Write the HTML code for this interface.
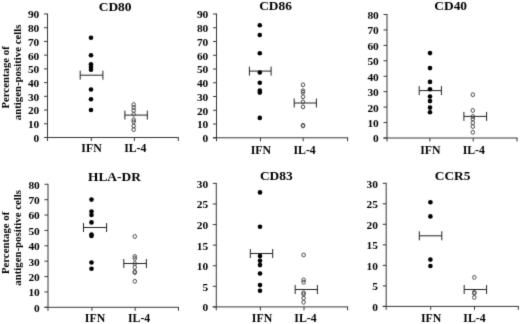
<!DOCTYPE html><html><head><meta charset="utf-8"><style>html,body{margin:0;padding:0;background:#fff;width:520px;height:324px;overflow:hidden}svg{display:block;filter:grayscale(1)}</style></head><body>
<svg width="520" height="324" viewBox="0 0 520 324">
<defs><filter id="bl" x="0" y="0" width="520" height="324" filterUnits="userSpaceOnUse" color-interpolation-filters="sRGB"><feConvolveMatrix order="3" kernelMatrix="1 6 1 6 40 6 1 6 1" divisor="68" edgeMode="none"/></filter></defs>
<rect width="520" height="324" fill="#fff"/>
<g filter="url(#bl)" font-family='"Liberation Serif", serif' font-weight="bold" fill="#000">
<line x1="47.5" y1="13.5" x2="47.5" y2="141.0" stroke="#363636" stroke-width="1"/>
<line x1="44.0" y1="137.5" x2="178.8" y2="137.5" stroke="#363636" stroke-width="1"/>
<line x1="44.0" y1="137.5" x2="47.5" y2="137.5" stroke="#363636" stroke-width="1"/>
<text x="39.3" y="141.90" font-size="11.4" text-anchor="end">0</text>
<line x1="44.0" y1="123.78" x2="47.5" y2="123.78" stroke="#363636" stroke-width="1"/>
<text x="39.3" y="128.18" font-size="11.4" text-anchor="end">10</text>
<line x1="44.0" y1="110.06" x2="47.5" y2="110.06" stroke="#363636" stroke-width="1"/>
<text x="39.3" y="114.46" font-size="11.4" text-anchor="end">20</text>
<line x1="44.0" y1="96.33" x2="47.5" y2="96.33" stroke="#363636" stroke-width="1"/>
<text x="39.3" y="100.73" font-size="11.4" text-anchor="end">30</text>
<line x1="44.0" y1="82.61" x2="47.5" y2="82.61" stroke="#363636" stroke-width="1"/>
<text x="39.3" y="87.01" font-size="11.4" text-anchor="end">40</text>
<line x1="44.0" y1="68.89" x2="47.5" y2="68.89" stroke="#363636" stroke-width="1"/>
<text x="39.3" y="73.29" font-size="11.4" text-anchor="end">50</text>
<line x1="44.0" y1="55.17" x2="47.5" y2="55.17" stroke="#363636" stroke-width="1"/>
<text x="39.3" y="59.57" font-size="11.4" text-anchor="end">60</text>
<line x1="44.0" y1="41.44" x2="47.5" y2="41.44" stroke="#363636" stroke-width="1"/>
<text x="39.3" y="45.84" font-size="11.4" text-anchor="end">70</text>
<line x1="44.0" y1="27.72" x2="47.5" y2="27.72" stroke="#363636" stroke-width="1"/>
<text x="39.3" y="32.12" font-size="11.4" text-anchor="end">80</text>
<line x1="44.0" y1="14.0" x2="47.5" y2="14.0" stroke="#363636" stroke-width="1"/>
<text x="39.3" y="18.40" font-size="11.4" text-anchor="end">90</text>
<line x1="91.3" y1="137.5" x2="91.3" y2="141.0" stroke="#363636" stroke-width="1"/>
<line x1="134.4" y1="137.5" x2="134.4" y2="141.0" stroke="#363636" stroke-width="1"/>
<line x1="178.3" y1="137.5" x2="178.3" y2="141.0" stroke="#363636" stroke-width="1"/>
<text x="115.1" y="11.0" font-size="13.4" text-anchor="middle">CD80</text>
<text x="91.5" y="151.5" font-size="11.8" text-anchor="middle">IFN</text>
<text x="135.3" y="151.5" font-size="11.8" text-anchor="middle">IL-4</text>
<line x1="80.2" y1="75.2" x2="102.9" y2="75.2" stroke="#222" stroke-width="1"/>
<line x1="80.2" y1="70.7" x2="80.2" y2="79.7" stroke="#222" stroke-width="1"/>
<line x1="102.9" y1="70.7" x2="102.9" y2="79.7" stroke="#222" stroke-width="1"/>
<line x1="124.9" y1="115.1" x2="147.3" y2="115.1" stroke="#222" stroke-width="1"/>
<line x1="124.9" y1="110.6" x2="124.9" y2="119.6" stroke="#222" stroke-width="1"/>
<line x1="147.3" y1="110.6" x2="147.3" y2="119.6" stroke="#222" stroke-width="1"/>
<circle cx="91.0" cy="37.8" r="2.3" fill="#000"/>
<circle cx="91.0" cy="55.2" r="2.3" fill="#000"/>
<circle cx="91.0" cy="64.3" r="2.3" fill="#000"/>
<circle cx="91.0" cy="67.0" r="2.3" fill="#000"/>
<circle cx="91.0" cy="69.7" r="2.3" fill="#000"/>
<circle cx="91.0" cy="89.5" r="2.3" fill="#000"/>
<circle cx="91.0" cy="99.2" r="2.3" fill="#000"/>
<circle cx="91.0" cy="110.0" r="2.3" fill="#000"/>
<ellipse cx="133.7" cy="104.6" rx="1.75" ry="1.95" fill="none" stroke="#484848" stroke-width="1"/>
<ellipse cx="133.7" cy="107.5" rx="1.75" ry="1.95" fill="none" stroke="#484848" stroke-width="1"/>
<ellipse cx="133.7" cy="110.5" rx="1.75" ry="1.95" fill="none" stroke="#484848" stroke-width="1"/>
<ellipse cx="133.7" cy="114.2" rx="1.75" ry="1.95" fill="none" stroke="#484848" stroke-width="1"/>
<ellipse cx="133.7" cy="119.8" rx="1.75" ry="1.95" fill="none" stroke="#484848" stroke-width="1"/>
<ellipse cx="133.7" cy="121.8" rx="1.75" ry="1.95" fill="none" stroke="#484848" stroke-width="1"/>
<ellipse cx="133.7" cy="126" rx="1.75" ry="1.95" fill="none" stroke="#484848" stroke-width="1"/>
<ellipse cx="133.7" cy="129.6" rx="1.75" ry="1.95" fill="none" stroke="#484848" stroke-width="1"/>
<line x1="216.5" y1="13.5" x2="216.5" y2="141.3" stroke="#363636" stroke-width="1"/>
<line x1="213.0" y1="137.8" x2="348.1" y2="137.8" stroke="#363636" stroke-width="1"/>
<line x1="213.0" y1="137.8" x2="216.5" y2="137.8" stroke="#363636" stroke-width="1"/>
<text x="208.3" y="142.20" font-size="11.4" text-anchor="end">0</text>
<line x1="213.0" y1="124.04" x2="216.5" y2="124.04" stroke="#363636" stroke-width="1"/>
<text x="208.3" y="128.44" font-size="11.4" text-anchor="end">10</text>
<line x1="213.0" y1="110.29" x2="216.5" y2="110.29" stroke="#363636" stroke-width="1"/>
<text x="208.3" y="114.69" font-size="11.4" text-anchor="end">20</text>
<line x1="213.0" y1="96.53" x2="216.5" y2="96.53" stroke="#363636" stroke-width="1"/>
<text x="208.3" y="100.93" font-size="11.4" text-anchor="end">30</text>
<line x1="213.0" y1="82.78" x2="216.5" y2="82.78" stroke="#363636" stroke-width="1"/>
<text x="208.3" y="87.18" font-size="11.4" text-anchor="end">40</text>
<line x1="213.0" y1="69.02" x2="216.5" y2="69.02" stroke="#363636" stroke-width="1"/>
<text x="208.3" y="73.42" font-size="11.4" text-anchor="end">50</text>
<line x1="213.0" y1="55.27" x2="216.5" y2="55.27" stroke="#363636" stroke-width="1"/>
<text x="208.3" y="59.67" font-size="11.4" text-anchor="end">60</text>
<line x1="213.0" y1="41.51" x2="216.5" y2="41.51" stroke="#363636" stroke-width="1"/>
<text x="208.3" y="45.91" font-size="11.4" text-anchor="end">70</text>
<line x1="213.0" y1="27.76" x2="216.5" y2="27.76" stroke="#363636" stroke-width="1"/>
<text x="208.3" y="32.16" font-size="11.4" text-anchor="end">80</text>
<line x1="213.0" y1="14.0" x2="216.5" y2="14.0" stroke="#363636" stroke-width="1"/>
<text x="208.3" y="18.40" font-size="11.4" text-anchor="end">90</text>
<line x1="260.5" y1="137.8" x2="260.5" y2="141.3" stroke="#363636" stroke-width="1"/>
<line x1="303.2" y1="137.8" x2="303.2" y2="141.3" stroke="#363636" stroke-width="1"/>
<line x1="347.6" y1="137.8" x2="347.6" y2="141.3" stroke="#363636" stroke-width="1"/>
<text x="275.5" y="10.2" font-size="13.4" text-anchor="middle">CD86</text>
<text x="260.8" y="154.3" font-size="11.8" text-anchor="middle">IFN</text>
<text x="304.6" y="154.3" font-size="11.8" text-anchor="middle">IL-4</text>
<line x1="249.4" y1="71.1" x2="271.1" y2="71.1" stroke="#222" stroke-width="1"/>
<line x1="249.4" y1="66.6" x2="249.4" y2="75.6" stroke="#222" stroke-width="1"/>
<line x1="271.1" y1="66.6" x2="271.1" y2="75.6" stroke="#222" stroke-width="1"/>
<line x1="294.2" y1="103.0" x2="316.4" y2="103.0" stroke="#222" stroke-width="1"/>
<line x1="294.2" y1="98.5" x2="294.2" y2="107.5" stroke="#222" stroke-width="1"/>
<line x1="316.4" y1="98.5" x2="316.4" y2="107.5" stroke="#222" stroke-width="1"/>
<circle cx="259.8" cy="25.2" r="2.3" fill="#000"/>
<circle cx="259.8" cy="35" r="2.3" fill="#000"/>
<circle cx="259.8" cy="53.3" r="2.3" fill="#000"/>
<circle cx="259.8" cy="72.5" r="2.3" fill="#000"/>
<circle cx="259.8" cy="82.7" r="2.3" fill="#000"/>
<circle cx="259.8" cy="90.6" r="2.3" fill="#000"/>
<circle cx="259.8" cy="92.6" r="2.3" fill="#000"/>
<circle cx="259.8" cy="117.9" r="2.3" fill="#000"/>
<ellipse cx="303.0" cy="84.8" rx="1.75" ry="1.95" fill="none" stroke="#484848" stroke-width="1"/>
<ellipse cx="303.0" cy="90.8" rx="1.75" ry="1.95" fill="none" stroke="#484848" stroke-width="1"/>
<ellipse cx="303.0" cy="92.4" rx="1.75" ry="1.95" fill="none" stroke="#484848" stroke-width="1"/>
<ellipse cx="303.0" cy="96.7" rx="1.75" ry="1.95" fill="none" stroke="#484848" stroke-width="1"/>
<ellipse cx="303.0" cy="101.9" rx="1.75" ry="1.95" fill="none" stroke="#484848" stroke-width="1"/>
<ellipse cx="303.0" cy="106.9" rx="1.75" ry="1.95" fill="none" stroke="#484848" stroke-width="1"/>
<ellipse cx="303.0" cy="125.3" rx="1.75" ry="1.95" fill="none" stroke="#484848" stroke-width="1"/>
<ellipse cx="303.0" cy="125.9" rx="1.75" ry="1.95" fill="none" stroke="#484848" stroke-width="1"/>
<line x1="387.0" y1="14.0" x2="387.0" y2="141.5" stroke="#363636" stroke-width="1"/>
<line x1="383.5" y1="138.0" x2="517.5" y2="138.0" stroke="#363636" stroke-width="1"/>
<line x1="383.5" y1="138.0" x2="387.0" y2="138.0" stroke="#363636" stroke-width="1"/>
<text x="378.8" y="142.40" font-size="11.4" text-anchor="end">0</text>
<line x1="383.5" y1="122.56" x2="387.0" y2="122.56" stroke="#363636" stroke-width="1"/>
<text x="378.8" y="126.96" font-size="11.4" text-anchor="end">10</text>
<line x1="383.5" y1="107.12" x2="387.0" y2="107.12" stroke="#363636" stroke-width="1"/>
<text x="378.8" y="111.53" font-size="11.4" text-anchor="end">20</text>
<line x1="383.5" y1="91.69" x2="387.0" y2="91.69" stroke="#363636" stroke-width="1"/>
<text x="378.8" y="96.09" font-size="11.4" text-anchor="end">30</text>
<line x1="383.5" y1="76.25" x2="387.0" y2="76.25" stroke="#363636" stroke-width="1"/>
<text x="378.8" y="80.65" font-size="11.4" text-anchor="end">40</text>
<line x1="383.5" y1="60.81" x2="387.0" y2="60.81" stroke="#363636" stroke-width="1"/>
<text x="378.8" y="65.21" font-size="11.4" text-anchor="end">50</text>
<line x1="383.5" y1="45.38" x2="387.0" y2="45.38" stroke="#363636" stroke-width="1"/>
<text x="378.8" y="49.77" font-size="11.4" text-anchor="end">60</text>
<line x1="383.5" y1="29.94" x2="387.0" y2="29.94" stroke="#363636" stroke-width="1"/>
<text x="378.8" y="34.34" font-size="11.4" text-anchor="end">70</text>
<line x1="383.5" y1="14.5" x2="387.0" y2="14.5" stroke="#363636" stroke-width="1"/>
<text x="378.8" y="18.90" font-size="11.4" text-anchor="end">80</text>
<line x1="429.9" y1="138.0" x2="429.9" y2="141.5" stroke="#363636" stroke-width="1"/>
<line x1="473.2" y1="138.0" x2="473.2" y2="141.5" stroke="#363636" stroke-width="1"/>
<line x1="517.0" y1="138.0" x2="517.0" y2="141.5" stroke="#363636" stroke-width="1"/>
<text x="450.7" y="9.6" font-size="13.4" text-anchor="middle">CD40</text>
<text x="430.3" y="153.5" font-size="11.8" text-anchor="middle">IFN</text>
<text x="473.8" y="153.5" font-size="11.8" text-anchor="middle">IL-4</text>
<line x1="419.2" y1="90.6" x2="441.4" y2="90.6" stroke="#222" stroke-width="1"/>
<line x1="419.2" y1="86.1" x2="419.2" y2="95.1" stroke="#222" stroke-width="1"/>
<line x1="441.4" y1="86.1" x2="441.4" y2="95.1" stroke="#222" stroke-width="1"/>
<line x1="463.9" y1="116.4" x2="486.6" y2="116.4" stroke="#222" stroke-width="1"/>
<line x1="463.9" y1="111.9" x2="463.9" y2="120.9" stroke="#222" stroke-width="1"/>
<line x1="486.6" y1="111.9" x2="486.6" y2="120.9" stroke="#222" stroke-width="1"/>
<circle cx="430.0" cy="53.1" r="2.3" fill="#000"/>
<circle cx="430.0" cy="68.1" r="2.3" fill="#000"/>
<circle cx="430.0" cy="81.9" r="2.3" fill="#000"/>
<circle cx="430.0" cy="89.2" r="2.3" fill="#000"/>
<circle cx="430.0" cy="96.5" r="2.3" fill="#000"/>
<circle cx="430.0" cy="101.1" r="2.3" fill="#000"/>
<circle cx="430.0" cy="107.6" r="2.3" fill="#000"/>
<circle cx="430.0" cy="112.2" r="2.3" fill="#000"/>
<ellipse cx="472.8" cy="94.7" rx="1.75" ry="1.95" fill="none" stroke="#484848" stroke-width="1"/>
<ellipse cx="472.8" cy="110.5" rx="1.75" ry="1.95" fill="none" stroke="#484848" stroke-width="1"/>
<ellipse cx="472.8" cy="116.5" rx="1.75" ry="1.95" fill="none" stroke="#484848" stroke-width="1"/>
<ellipse cx="472.8" cy="119" rx="1.75" ry="1.95" fill="none" stroke="#484848" stroke-width="1"/>
<ellipse cx="472.8" cy="122.8" rx="1.75" ry="1.95" fill="none" stroke="#484848" stroke-width="1"/>
<ellipse cx="472.8" cy="126.5" rx="1.75" ry="1.95" fill="none" stroke="#484848" stroke-width="1"/>
<ellipse cx="472.8" cy="132.3" rx="1.75" ry="1.95" fill="none" stroke="#484848" stroke-width="1"/>
<line x1="48.0" y1="183.8" x2="48.0" y2="310.8" stroke="#363636" stroke-width="1"/>
<line x1="44.5" y1="307.3" x2="179.0" y2="307.3" stroke="#363636" stroke-width="1"/>
<line x1="44.5" y1="307.3" x2="48.0" y2="307.3" stroke="#363636" stroke-width="1"/>
<text x="39.8" y="311.70" font-size="11.4" text-anchor="end">0</text>
<line x1="44.5" y1="291.93" x2="48.0" y2="291.93" stroke="#363636" stroke-width="1"/>
<text x="39.8" y="296.32" font-size="11.4" text-anchor="end">10</text>
<line x1="44.5" y1="276.55" x2="48.0" y2="276.55" stroke="#363636" stroke-width="1"/>
<text x="39.8" y="280.95" font-size="11.4" text-anchor="end">20</text>
<line x1="44.5" y1="261.18" x2="48.0" y2="261.18" stroke="#363636" stroke-width="1"/>
<text x="39.8" y="265.57" font-size="11.4" text-anchor="end">30</text>
<line x1="44.5" y1="245.8" x2="48.0" y2="245.8" stroke="#363636" stroke-width="1"/>
<text x="39.8" y="250.20" font-size="11.4" text-anchor="end">40</text>
<line x1="44.5" y1="230.43" x2="48.0" y2="230.43" stroke="#363636" stroke-width="1"/>
<text x="39.8" y="234.83" font-size="11.4" text-anchor="end">50</text>
<line x1="44.5" y1="215.05" x2="48.0" y2="215.05" stroke="#363636" stroke-width="1"/>
<text x="39.8" y="219.45" font-size="11.4" text-anchor="end">60</text>
<line x1="44.5" y1="199.68" x2="48.0" y2="199.68" stroke="#363636" stroke-width="1"/>
<text x="39.8" y="204.08" font-size="11.4" text-anchor="end">70</text>
<line x1="44.5" y1="184.3" x2="48.0" y2="184.3" stroke="#363636" stroke-width="1"/>
<text x="39.8" y="188.70" font-size="11.4" text-anchor="end">80</text>
<line x1="91.9" y1="307.3" x2="91.9" y2="310.8" stroke="#363636" stroke-width="1"/>
<line x1="135.2" y1="307.3" x2="135.2" y2="310.8" stroke="#363636" stroke-width="1"/>
<line x1="178.5" y1="307.3" x2="178.5" y2="310.8" stroke="#363636" stroke-width="1"/>
<text x="114.4" y="180.9" font-size="13.4" text-anchor="middle">HLA-DR</text>
<text x="95.0" y="321.5" font-size="11.8" text-anchor="middle">IFN</text>
<text x="139.1" y="321.5" font-size="11.8" text-anchor="middle">IL-4</text>
<line x1="83.5" y1="227.5" x2="106.6" y2="227.5" stroke="#222" stroke-width="1"/>
<line x1="83.5" y1="223.0" x2="83.5" y2="232.0" stroke="#222" stroke-width="1"/>
<line x1="106.6" y1="223.0" x2="106.6" y2="232.0" stroke="#222" stroke-width="1"/>
<line x1="123.8" y1="263.5" x2="146.4" y2="263.5" stroke="#222" stroke-width="1"/>
<line x1="123.8" y1="259.0" x2="123.8" y2="268.0" stroke="#222" stroke-width="1"/>
<line x1="146.4" y1="259.0" x2="146.4" y2="268.0" stroke="#222" stroke-width="1"/>
<circle cx="91.5" cy="199.6" r="2.3" fill="#000"/>
<circle cx="91.5" cy="211.6" r="2.3" fill="#000"/>
<circle cx="91.5" cy="215" r="2.3" fill="#000"/>
<circle cx="91.5" cy="222.4" r="2.3" fill="#000"/>
<circle cx="91.5" cy="234.5" r="2.3" fill="#000"/>
<circle cx="91.5" cy="236" r="2.3" fill="#000"/>
<circle cx="91.5" cy="262.5" r="2.3" fill="#000"/>
<circle cx="91.5" cy="268.7" r="2.3" fill="#000"/>
<ellipse cx="134.8" cy="236.5" rx="1.75" ry="1.95" fill="none" stroke="#484848" stroke-width="1"/>
<ellipse cx="134.8" cy="256.5" rx="1.75" ry="1.95" fill="none" stroke="#484848" stroke-width="1"/>
<ellipse cx="134.8" cy="258.5" rx="1.75" ry="1.95" fill="none" stroke="#484848" stroke-width="1"/>
<ellipse cx="134.8" cy="263.5" rx="1.75" ry="1.95" fill="none" stroke="#484848" stroke-width="1"/>
<ellipse cx="134.8" cy="267.3" rx="1.75" ry="1.95" fill="none" stroke="#484848" stroke-width="1"/>
<ellipse cx="134.8" cy="271.6" rx="1.75" ry="1.95" fill="none" stroke="#484848" stroke-width="1"/>
<ellipse cx="134.8" cy="272.6" rx="1.75" ry="1.95" fill="none" stroke="#484848" stroke-width="1"/>
<ellipse cx="134.8" cy="281.3" rx="1.75" ry="1.95" fill="none" stroke="#484848" stroke-width="1"/>
<line x1="216.3" y1="182.9" x2="216.3" y2="310.4" stroke="#363636" stroke-width="1"/>
<line x1="212.8" y1="306.9" x2="348.1" y2="306.9" stroke="#363636" stroke-width="1"/>
<line x1="212.8" y1="306.9" x2="216.3" y2="306.9" stroke="#363636" stroke-width="1"/>
<text x="208.1" y="311.30" font-size="11.4" text-anchor="end">0</text>
<line x1="212.8" y1="286.32" x2="216.3" y2="286.32" stroke="#363636" stroke-width="1"/>
<text x="208.1" y="290.72" font-size="11.4" text-anchor="end">5</text>
<line x1="212.8" y1="265.73" x2="216.3" y2="265.73" stroke="#363636" stroke-width="1"/>
<text x="208.1" y="270.13" font-size="11.4" text-anchor="end">10</text>
<line x1="212.8" y1="245.15" x2="216.3" y2="245.15" stroke="#363636" stroke-width="1"/>
<text x="208.1" y="249.55" font-size="11.4" text-anchor="end">15</text>
<line x1="212.8" y1="224.57" x2="216.3" y2="224.57" stroke="#363636" stroke-width="1"/>
<text x="208.1" y="228.97" font-size="11.4" text-anchor="end">20</text>
<line x1="212.8" y1="203.98" x2="216.3" y2="203.98" stroke="#363636" stroke-width="1"/>
<text x="208.1" y="208.38" font-size="11.4" text-anchor="end">25</text>
<line x1="212.8" y1="183.4" x2="216.3" y2="183.4" stroke="#363636" stroke-width="1"/>
<text x="208.1" y="187.80" font-size="11.4" text-anchor="end">30</text>
<line x1="260.4" y1="306.9" x2="260.4" y2="310.4" stroke="#363636" stroke-width="1"/>
<line x1="304.0" y1="306.9" x2="304.0" y2="310.4" stroke="#363636" stroke-width="1"/>
<line x1="347.6" y1="306.9" x2="347.6" y2="310.4" stroke="#363636" stroke-width="1"/>
<text x="276.3" y="180.4" font-size="13.4" text-anchor="middle">CD83</text>
<text x="262.0" y="321.9" font-size="11.8" text-anchor="middle">IFN</text>
<text x="305.5" y="321.9" font-size="11.8" text-anchor="middle">IL-4</text>
<line x1="250.3" y1="253.5" x2="272.7" y2="253.5" stroke="#222" stroke-width="1"/>
<line x1="250.3" y1="249.0" x2="250.3" y2="258.0" stroke="#222" stroke-width="1"/>
<line x1="272.7" y1="249.0" x2="272.7" y2="258.0" stroke="#222" stroke-width="1"/>
<line x1="295.2" y1="289.5" x2="317.4" y2="289.5" stroke="#222" stroke-width="1"/>
<line x1="295.2" y1="285.0" x2="295.2" y2="294.0" stroke="#222" stroke-width="1"/>
<line x1="317.4" y1="285.0" x2="317.4" y2="294.0" stroke="#222" stroke-width="1"/>
<circle cx="260.0" cy="192.4" r="2.3" fill="#000"/>
<circle cx="260.0" cy="226.7" r="2.3" fill="#000"/>
<circle cx="260.0" cy="256.1" r="2.3" fill="#000"/>
<circle cx="260.0" cy="260.7" r="2.3" fill="#000"/>
<circle cx="260.0" cy="265.1" r="2.3" fill="#000"/>
<circle cx="260.0" cy="273.5" r="2.3" fill="#000"/>
<circle cx="260.0" cy="285.1" r="2.3" fill="#000"/>
<circle cx="260.0" cy="290.8" r="2.3" fill="#000"/>
<ellipse cx="303.6" cy="255" rx="1.75" ry="1.95" fill="none" stroke="#484848" stroke-width="1"/>
<ellipse cx="303.6" cy="279.9" rx="1.75" ry="1.95" fill="none" stroke="#484848" stroke-width="1"/>
<ellipse cx="303.6" cy="282.3" rx="1.75" ry="1.95" fill="none" stroke="#484848" stroke-width="1"/>
<ellipse cx="303.6" cy="292.8" rx="1.75" ry="1.95" fill="none" stroke="#484848" stroke-width="1"/>
<ellipse cx="303.6" cy="294.2" rx="1.75" ry="1.95" fill="none" stroke="#484848" stroke-width="1"/>
<ellipse cx="303.6" cy="298.1" rx="1.75" ry="1.95" fill="none" stroke="#484848" stroke-width="1"/>
<ellipse cx="303.6" cy="302.3" rx="1.75" ry="1.95" fill="none" stroke="#484848" stroke-width="1"/>
<line x1="386.2" y1="182.8" x2="386.2" y2="309.9" stroke="#363636" stroke-width="1"/>
<line x1="382.7" y1="306.4" x2="518.8" y2="306.4" stroke="#363636" stroke-width="1"/>
<line x1="382.7" y1="306.4" x2="386.2" y2="306.4" stroke="#363636" stroke-width="1"/>
<text x="378.0" y="310.80" font-size="11.4" text-anchor="end">0</text>
<line x1="382.7" y1="285.88" x2="386.2" y2="285.88" stroke="#363636" stroke-width="1"/>
<text x="378.0" y="290.28" font-size="11.4" text-anchor="end">5</text>
<line x1="382.7" y1="265.37" x2="386.2" y2="265.37" stroke="#363636" stroke-width="1"/>
<text x="378.0" y="269.77" font-size="11.4" text-anchor="end">10</text>
<line x1="382.7" y1="244.85" x2="386.2" y2="244.85" stroke="#363636" stroke-width="1"/>
<text x="378.0" y="249.25" font-size="11.4" text-anchor="end">15</text>
<line x1="382.7" y1="224.33" x2="386.2" y2="224.33" stroke="#363636" stroke-width="1"/>
<text x="378.0" y="228.73" font-size="11.4" text-anchor="end">20</text>
<line x1="382.7" y1="203.82" x2="386.2" y2="203.82" stroke="#363636" stroke-width="1"/>
<text x="378.0" y="208.22" font-size="11.4" text-anchor="end">25</text>
<line x1="382.7" y1="183.3" x2="386.2" y2="183.3" stroke="#363636" stroke-width="1"/>
<text x="378.0" y="187.70" font-size="11.4" text-anchor="end">30</text>
<line x1="430.7" y1="306.4" x2="430.7" y2="309.9" stroke="#363636" stroke-width="1"/>
<line x1="474.5" y1="306.4" x2="474.5" y2="309.9" stroke="#363636" stroke-width="1"/>
<line x1="518.3" y1="306.4" x2="518.3" y2="309.9" stroke="#363636" stroke-width="1"/>
<text x="452.6" y="180.4" font-size="13.4" text-anchor="middle">CCR5</text>
<text x="431.1" y="322.0" font-size="11.8" text-anchor="middle">IFN</text>
<text x="474.5" y="322.0" font-size="11.8" text-anchor="middle">IL-4</text>
<line x1="419.3" y1="235.8" x2="441.8" y2="235.8" stroke="#222" stroke-width="1"/>
<line x1="419.3" y1="231.3" x2="419.3" y2="240.3" stroke="#222" stroke-width="1"/>
<line x1="441.8" y1="231.3" x2="441.8" y2="240.3" stroke="#222" stroke-width="1"/>
<line x1="464.2" y1="289.5" x2="486.6" y2="289.5" stroke="#222" stroke-width="1"/>
<line x1="464.2" y1="285.0" x2="464.2" y2="294.0" stroke="#222" stroke-width="1"/>
<line x1="486.6" y1="285.0" x2="486.6" y2="294.0" stroke="#222" stroke-width="1"/>
<circle cx="430.4" cy="202.2" r="2.3" fill="#000"/>
<circle cx="430.4" cy="216.4" r="2.3" fill="#000"/>
<circle cx="430.4" cy="259.6" r="2.3" fill="#000"/>
<circle cx="430.4" cy="266.0" r="2.3" fill="#000"/>
<ellipse cx="474.3" cy="277.4" rx="1.75" ry="1.95" fill="none" stroke="#484848" stroke-width="1"/>
<ellipse cx="474.3" cy="292.3" rx="1.75" ry="1.95" fill="none" stroke="#484848" stroke-width="1"/>
<ellipse cx="474.3" cy="293.3" rx="1.75" ry="1.95" fill="none" stroke="#484848" stroke-width="1"/>
<ellipse cx="474.3" cy="297.4" rx="1.75" ry="1.95" fill="none" stroke="#484848" stroke-width="1"/>
<text transform="translate(9.3,77.4) rotate(-90)" font-size="10.8" text-anchor="middle">Percentage of</text>
<text transform="translate(20.6,72.4) rotate(-90)" font-size="10.8" text-anchor="middle">antigen-positive cells</text>
<text transform="translate(9.3,242.9) rotate(-90)" font-size="10.8" text-anchor="middle">Percentage of</text>
<text transform="translate(20.6,237.9) rotate(-90)" font-size="10.8" text-anchor="middle">antigen-positive cells</text>
</g></svg></body></html>
